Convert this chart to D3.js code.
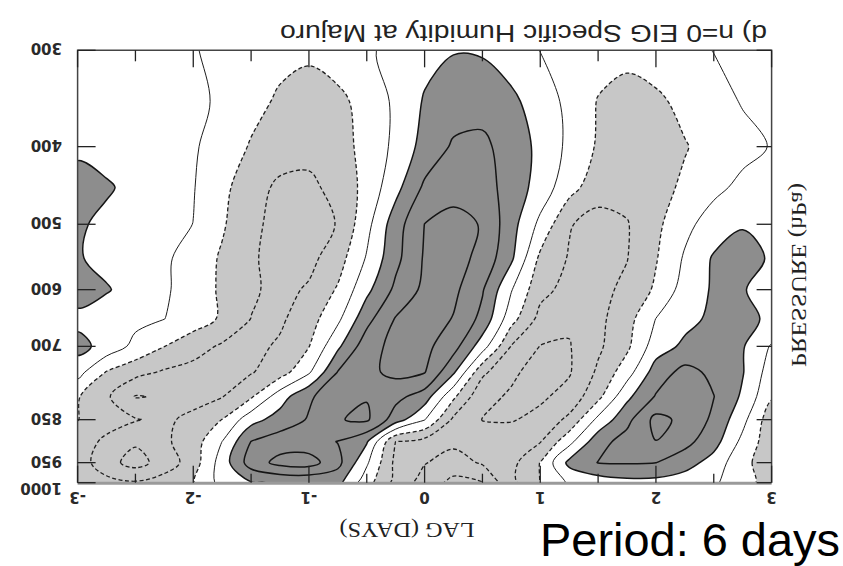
<!DOCTYPE html>
<html>
<head>
<meta charset="utf-8">
<script src="https://cdn.jsdelivr.net/npm/d3@7"></script>
<style>
  html, body { margin: 0; padding: 0; background: #ffffff; }
  svg { display: block; }
</style>
</head>
<body>
<svg id="chart" width="843" height="566"></svg>
<script>
// Lag (days) of each grid column and pressure (hPa) of each grid row
const lagDays = [-3, -2.75, -2.5, -2.25, -2, -1.75, -1.5, -1.25, -1, -0.75, -0.5, -0.25,
                 0, 0.25, 0.5, 0.75, 1, 1.25, 1.5, 1.75, 2, 2.25, 2.5, 2.75, 3];
const pressureLevels = [300, 350, 400, 450, 500, 550, 600, 650, 700, 750, 800, 850, 900, 950, 1000];

// Axis ticks and labels
const lagTicks = [-3, -2, -1, 0, 1, 2, 3];
const lagHalfTicks = [-2.5, -1.5, -0.5, 0.5, 1.5, 2.5];
const pressureTicks = [300, 400, 500, 600, 700, 850, 950, 1000];

// Contour levels of the specific humidity anomaly
const negativeLevels = [-4, -3, -2, -1];
const zeroLevel = [0];
const positiveLevels = [1, 2, 3];

// Lagged specific humidity anomaly, one row per pressure level (300 hPa first)
const humidityAnomaly = [
  /* 300 */ [0.5, 0.45, 0.35, 0.2, 0.05, -0.2, -0.5, -0.72, -0.8, -0.6, -0.15, 0.3, 0.7, 0.95, 0.9, 0.55, -0.02, -0.4, -0.62, -0.72, -0.6, -0.3, 0.02, 0.2, 0.25],
  /* 350 */ [0.6, 0.52, 0.44, 0.31, 0.14, -0.1, -0.68, -1.15, -1.49, -1.2, -0.7, 0.2, 1.09, 1.54, 1.62, 1.2, 0.56, -0.27, -1.05, -1.37, -1.15, -0.79, -0.33, 0.06, 0.25],
  /* 400 */ [0.8, 0.66, 0.52, 0.32, 0.1, -0.4, -1.09, -1.51, -1.68, -1.29, -0.77, 0.26, 1.35, 2.13, 2.23, 1.54, 0.76, -0.23, -1.12, -1.56, -1.34, -1.05, -0.68, -0.28, 0.05],
  /* 450 */ [1.4, 1.1, 0.76, 0.4, 0.05, -0.74, -1.59, -2.2, -2.23, -1.66, -0.69, 0.69, 2.18, 2.62, 2.4, 1.61, 0.58, -0.63, -1.58, -1.67, -1.29, -0.86, -0.24, 0.23, 0.6],
  /* 500 */ [1.12, 0.8, 0.58, 0.29, -0.01, -0.88, -1.78, -2.31, -2.45, -1.95, -0.31, 1.55, 3.01, 3.35, 2.93, 1.38, -0.25, -1.93, -2.37, -2.06, -1.23, -0.27, 0.46, 0.94, 0.8],
  /* 550 */ [1.08, 0.72, 0.46, 0.15, -0.39, -1.13, -1.85, -2.42, -2.29, -1.43, 0.09, 1.73, 3.11, 3.4, 2.71, 1.17, -1.22, -2.08, -2.47, -2.03, -1.07, 0.12, 1.11, 1.32, 0.9],
  /* 600 */ [1.5, 1.08, 0.61, 0.14, -0.47, -1.15, -1.84, -2.32, -1.87, -0.89, 0.75, 2.22, 3.23, 3.24, 2.09, 0.06, -1.7, -2.33, -2.27, -1.79, -0.84, 0.42, 1.12, 1.06, 0.6],
  /* 650 */ [0.7, 0.47, 0.24, 0.01, -0.52, -1.13, -2.02, -2.16, -1.43, -0.21, 1.68, 3.07, 3.59, 2.94, 1.71, -0.63, -2.32, -2.85, -2.25, -1.39, 0.02, 0.71, 1.2, 1.22, 0.85],
  /* 700 */ [1.35, 0.61, -0.26, -0.99, -1.59, -2.14, -2.27, -1.86, -1.03, 0.81, 2.59, 3.3, 3.26, 2.39, 0.46, -2.05, -3.03, -3.06, -2.18, -1.2, 0.52, 1.2, 1.41, 1.08, -0.1],
  /* 750 */ [0.35, -1.06, -1.68, -2.12, -2.35, -2.26, -2.07, -1.45, -0.13, 2.05, 2.77, 3.25, 3.05, 1.15, -1.78, -2.88, -3.27, -3.09, -1.83, -0.44, 1.47, 2.31, 1.78, 1.06, -0.5],
  /* 800 */ [-0.92, -1.84, -3.06, -2.9, -2.45, -2.04, -1.13, 0.55, 1.86, 2.6, 2.95, 2.29, 1.52, -0.81, -2.8, -3.09, -3.17, -2.64, -1.28, 0.77, 2.08, 2.52, 2.02, 0.84, -0.9],
  /* 850 */ [-0.98, -1.45, -1.93, -2.23, -1.68, -0.98, 0.64, 1.42, 2.09, 2.95, 3.15, 1.48, 0.04, -2.21, -3.02, -3.08, -2.69, -1.77, 0.26, 1.71, 3.3, 2.75, 1.8, 0.29, -1.6],
  /* 900 */ [-1.32, -2.28, -2.87, -2.17, -1.49, 0.01, 2.02, 2.52, 2.42, 1.97, 1.1, -2.01, -2.39, -2.77, -2.63, -2.34, -2.05, -0.31, 1.63, 2.4, 2.98, 2.3, 1.4, -0.27, -1.6],
  /* 950 */ [-1.43, -2.65, -3.37, -2.59, -1.48, 0.47, 2.48, 3.31, 3.45, 2.3, 0.15, -2.25, -2.94, -3.44, -2.88, -2.31, -0.97, 1.26, 2.03, 2.08, 2.01, 1.45, 0.57, -0.71, -1.6],
  /* 1000 */ [-1.4, -1.65, -1.89, -1.49, -1.07, 0.37, 0.94, 1.06, 1.08, 1.3, -0.6, -2.31, -3.46, -4.28, -4.04, -2.25, -0.98, 0.13, 0.41, 0.68, 0.66, 0.4, 0.14, -0.58, -1.5]
];

const svg = d3.select("#chart");
const plot = { left: 77.6, right: 771.6, top: 50.3, bottom: 482.7 };

// Lag runs left to right; pressure axis is stretched like p^0.15
const x = d3.scaleLinear().domain([-3, 3]).range([plot.left, plot.right]);
const y = d3.scalePow().exponent(0.15).domain([300, 1000]).range([plot.top, plot.bottom]);

// Grid index -> data coordinate
const colToLag = d3.scaleLinear().domain(d3.range(lagDays.length)).range(lagDays);
const rowToP = d3.scaleLinear().domain(d3.range(pressureLevels.length)).range(pressureLevels);

const nx = lagDays.length, ny = pressureLevels.length;
const grid = humidityAnomaly.flat();
const contourer = d3.contours().size([nx, ny]);

// d3.contours puts sample i at i + 0.5
const toPixel = ([c, r]) => [x(colToLag(c - 0.5)), y(rowToP(r - 0.5))];
const ringLine = d3.line().curve(d3.curveCatmullRomClosed.alpha(0.5));

function contourPath(level) {
  const geom = contourer.contour(grid, level);
  return geom.coordinates
    .map(poly => poly.map(ring => ringLine(ring.slice(0, -1).map(toPixel))).join(""))
    .join("");
}

const defs = svg.append("defs");
defs.append("clipPath").attr("id", "plotClip")
  .append("rect")
  .attr("x", plot.left).attr("y", plot.top)
  .attr("width", plot.right - plot.left).attr("height", plot.bottom - plot.top);

const field = svg.append("g").attr("clip-path", "url(#plotClip)");

// Shading: light grey for anomalies <= -1, dark grey for >= 1
field.append("rect")
  .attr("x", plot.left).attr("y", plot.top)
  .attr("width", plot.right - plot.left).attr("height", plot.bottom - plot.top)
  .attr("fill", "#c7c7c7");
field.append("path").attr("d", contourPath(-1)).attr("fill", "#ffffff").attr("fill-rule", "evenodd");
field.append("path").attr("d", contourPath(1)).attr("fill", "#8d8d8d").attr("fill-rule", "evenodd");

// Contour lines
negativeLevels.forEach(level => {
  field.append("path").attr("d", contourPath(level))
    .attr("fill", "none").attr("stroke", "#1e1e1e")
    .attr("stroke-width", 1.3).attr("stroke-dasharray", "4,2.5");
});
zeroLevel.forEach(level => {
  field.append("path").attr("d", contourPath(level))
    .attr("fill", "none").attr("stroke", "#1e1e1e").attr("stroke-width", 1);
});
positiveLevels.forEach(level => {
  field.append("path").attr("d", contourPath(level))
    .attr("fill", "none").attr("stroke", "#151515").attr("stroke-width", 1.5);
});

// Frame
const frame = svg.append("g").attr("stroke", "#444").attr("fill", "none");
frame.append("path")
  .attr("d", `M${plot.left},${plot.bottom}V${plot.top}H${plot.right}V${plot.bottom}`)
  .attr("stroke-width", 1.5);
frame.append("line")
  .attr("x1", plot.left).attr("x2", plot.right)
  .attr("y1", plot.bottom + 0.5).attr("y2", plot.bottom + 0.5)
  .attr("stroke", "#9a9a9a").attr("stroke-width", 3);

// Ticks (all pointing into the plot)
const ticks = svg.append("g").attr("stroke", "#222").attr("stroke-width", 1.3);
lagTicks.forEach(t => {
  ticks.append("line").attr("x1", x(t)).attr("x2", x(t)).attr("y1", plot.top).attr("y2", plot.top + 17);
  ticks.append("line").attr("x1", x(t)).attr("x2", x(t)).attr("y1", plot.bottom).attr("y2", plot.bottom - 17);
});
lagHalfTicks.forEach(t => {
  ticks.append("line").attr("x1", x(t)).attr("x2", x(t)).attr("y1", plot.top).attr("y2", plot.top + 11);
  ticks.append("line").attr("x1", x(t)).attr("x2", x(t)).attr("y1", plot.bottom).attr("y2", plot.bottom - 9);
});
pressureTicks.forEach(p => {
  ticks.append("line").attr("x1", plot.left).attr("x2", plot.left + 18).attr("y1", y(p)).attr("y2", y(p));
  ticks.append("line").attr("x1", plot.right).attr("x2", plot.right - 15).attr("y1", y(p)).attr("y2", y(p));
});

// Text, turned upside down
const labelFont = "'DejaVu Sans', 'Liberation Sans', sans-serif";
const serifFont = "'Liberation Serif', 'DejaVu Serif', serif";

const tickFs = 15;
svg.append("g").selectAll("text").data(lagTicks).join("text")
  .attr("transform", d => `translate(${x(d)},${497 - 0.36 * tickFs}) rotate(180)`)
  .attr("text-anchor", "middle")
  .style("font-family", labelFont).style("font-size", tickFs + "px").style("font-weight", "bold")
  .attr("fill", "#2a2a2a")
  .text(d => d);

// the bottom label sits a little below its tick so it clears the 950 label
const pressureLabelY = p => (p === 1000 ? y(p) + 6 : y(p) - 1.5);
svg.append("g").selectAll("text").data(pressureTicks).join("text")
  .attr("transform", d => `translate(62,${pressureLabelY(d) - 0.36 * tickFs}) rotate(180)`)
  .attr("text-anchor", "start")
  .style("font-family", labelFont).style("font-size", tickFs + "px").style("font-weight", "bold")
  .attr("fill", "#2a2a2a")
  .text(d => d);

svg.append("text")
  .attr("transform", "translate(523.5,24.5) rotate(180)")
  .attr("text-anchor", "middle")
  .attr("textLength", 487).attr("lengthAdjust", "spacingAndGlyphs")
  .style("font-family", "'Liberation Sans', Arial, sans-serif").style("font-size", "24px")
  .attr("fill", "#222")
  .text("d) n=0 EIG Specific Humidity at Majuro");

const axisFs = 22;
svg.append("text")
  .attr("transform", `translate(407,${530 - 0.33 * axisFs}) rotate(180)`)
  .attr("text-anchor", "middle")
  .attr("textLength", 135).attr("lengthAdjust", "spacingAndGlyphs")
  .style("font-family", serifFont).style("font-size", axisFs + "px").attr("fill", "#222")
  .text("LAG (DAYS)");

svg.append("text")
  .attr("transform", `translate(${799 - 0.33 * axisFs},275) rotate(-90) scale(1,-1)`)
  .attr("text-anchor", "middle")
  .attr("textLength", 184).attr("lengthAdjust", "spacingAndGlyphs")
  .style("font-family", serifFont).style("font-size", axisFs + "px").attr("fill", "#222")
  .text("PRESSURE (hPa)");

svg.append("text")
  .attr("x", 540).attr("y", 556)
  .attr("textLength", 300).attr("lengthAdjust", "spacingAndGlyphs")
  .style("font-family", "'Liberation Sans', Arial, sans-serif").style("font-size", "46px")
  .attr("fill", "#000")
  .text("Period: 6 days");
</script>
</body>
</html>
